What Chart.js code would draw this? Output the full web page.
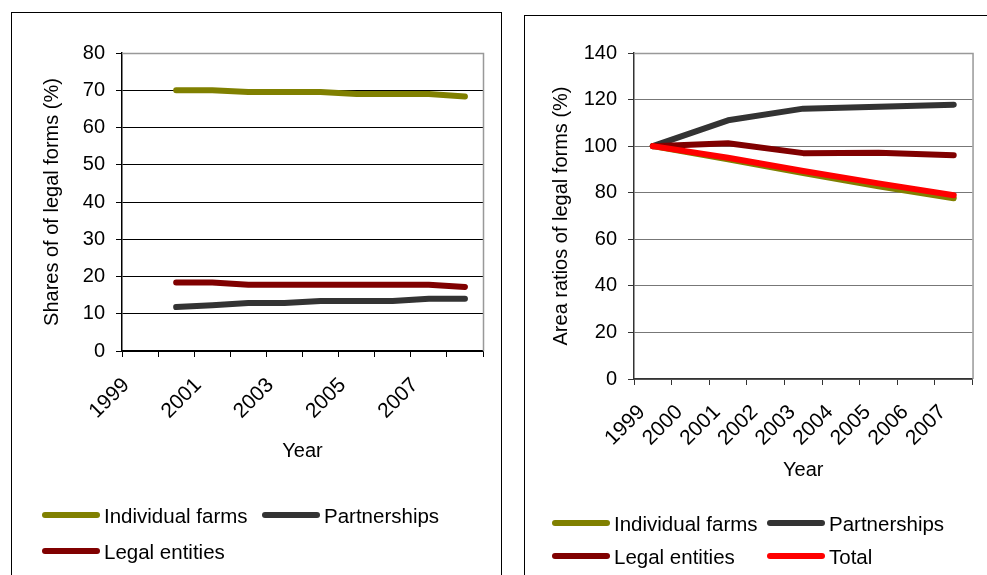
<!DOCTYPE html>
<html><head><meta charset="utf-8">
<script src="https://cdn.jsdelivr.net/npm/chart.js@4.4.1/dist/chart.umd.min.js"></script>
<style>
html,body{margin:0;padding:0;background:#fff;overflow:hidden;width:987px;height:575px}
.box{position:absolute;border:1px solid #000;box-sizing:border-box;background:#fff;overflow:hidden}
#boxL{left:11px;top:12px;width:491px;height:600px}
#boxR{left:524px;top:15px;width:500px;height:600px}
canvas{position:absolute;left:0;top:0}
</style></head><body>
<div class="box" id="boxL"><canvas id="cL" width="489" height="570" style="width:489px;height:570px"></canvas></div>
<div class="box" id="boxR"><canvas id="cR" width="462" height="565" style="width:462px;height:565px"></canvas></div>
<script>
// ---- data: left chart (shares of legal forms, %) ----
const leftYears = ['1999','2000','2001','2002','2003','2004','2005','2006','2007','2008'];
const leftIndividualFarms = [null, 70.0, 70.0, 69.5, 69.5, 69.5, 69.0, 69.0, 69.0, 68.3];
const leftPartnerships   = [null, 11.8, 12.3, 12.9, 12.9, 13.4, 13.4, 13.4, 14.0, 14.0];
const leftLegalEntities  = [null, 18.4, 18.4, 17.8, 17.8, 17.8, 17.8, 17.8, 17.8, 17.2];
const leftYTicks = [0, 10, 20, 30, 40, 50, 60, 70, 80];

// ---- data: right chart (area ratios of legal forms, %) ----
const rightYears = ['1999','2000','2001','2002','2003','2004','2005','2006','2007'];
const rightIndividualFarms = [100, null, 94.3, null, 88.4, null, 82.8, null, 77.6];
const rightPartnerships    = [100, null, 111.1, null, 116.1, null, 116.9, null, 117.8];
const rightLegalEntities   = [100, null, 101.2, null, 97.0, null, 97.2, null, 96.1];
const rightTotal           = [100, null, 95.0, null, 89.3, null, 84.0, null, 78.9];
const rightYTicks = [0, 20, 40, 60, 80, 100, 120, 140];

const FONT = 'Liberation Sans, Arial, sans-serif';
Chart.defaults.font.family = FONT;
Chart.defaults.color = '#000';

const plotFrame = {
  id: 'plotFrame',
  beforeDatasetsDraw(chart, args, opts) {
    const {ctx, chartArea: {left, top, right, bottom}} = chart;
    ctx.save();
    ctx.strokeStyle = opts.color;
    ctx.lineWidth = 1.5;
    ctx.beginPath();
    ctx.moveTo(left, top + 0.5);
    ctx.lineTo(right + 0.5, top + 0.5);
    ctx.lineTo(right + 0.5, bottom);
    ctx.stroke();
    ctx.restore();
  }
};

const lineLegend = {
  id: 'lineLegend',
  afterDraw(chart, args, opts) {
    const ctx = chart.ctx;
    ctx.save();
    ctx.font = opts.font;
    ctx.textBaseline = 'middle';
    ctx.textAlign = 'left';
    chart.data.datasets.forEach((ds, i) => {
      const [col, row] = opts.slots[i];
      const x = opts.cols[col], y = opts.rows[row];
      ctx.strokeStyle = ds.borderColor;
      ctx.lineWidth = 6;
      ctx.lineCap = 'round';
      ctx.beginPath();
      ctx.moveTo(x + 3, y);
      ctx.lineTo(x + opts.lineLen - 3, y);
      ctx.stroke();
      ctx.fillStyle = '#000';
      ctx.fillText(ds.label, x + opts.lineLen + opts.gap, y + opts.textDy);
    });
    ctx.restore();
  }
};

function ds(label, data, color, order) {
  return {label, data, borderColor: color, backgroundColor: color, borderWidth: 6,
    borderCapStyle: 'round', borderJoinStyle: 'round', pointRadius: 0, tension: 0,
    fill: false, spanGaps: true, order};
}

function makeChart(id, cfg) {
  return new Chart(document.getElementById(id), {
    type: 'line',
    data: {labels: cfg.labels, datasets: cfg.datasets},
    plugins: [plotFrame, lineLegend],
    options: {
      responsive: false, animation: false, events: [],
      layout: {padding: cfg.padding},
      plugins: {
        legend: {display: false}, tooltip: {enabled: false},
        plotFrame: {color: '#999'},
        lineLegend: cfg.legend
      },
      scales: {
        x: {
          type: 'category', offset: true,
          grid: {offset: true, drawOnChartArea: false, drawTicks: true, tickLength: 6, color: cfg.axisColor},
          border: {display: true, color: cfg.axisColor, width: 1.5},
          ticks: {autoSkip: false, maxRotation: 45, minRotation: 45, font: {size: 21}, color: '#000',
            padding: cfg.xTickPad, labelOffset: cfg.xLabelOffset,
            callback: (v, i) => (i % cfg.labelEvery === 0 ? cfg.labels[i] : '')},
          title: {display: true, text: 'Year', font: {size: 20}, color: '#000', padding: {top: 0, bottom: cfg.xTitlePad}},
          afterFit: (s) => { s.height = cfg.xHeight; }
        },
        y: {
          min: cfg.yTicks[0], max: cfg.yTicks[cfg.yTicks.length - 1],
          ticks: {stepSize: cfg.yTicks[1] - cfg.yTicks[0], font: {size: 20}, color: '#000', padding: 11},
          grid: {color: cfg.gridColor, tickColor: cfg.axisColor, tickLength: 6, drawTicks: true, lineWidth: 1},
          border: {display: true, color: cfg.axisColor, width: 1.5},
          title: {display: true, text: cfg.yTitle, font: {size: 20}, color: '#000', padding: {top: cfg.yTitlePad, bottom: 0}},
          afterFit: (s) => { s.width = cfg.yWidth; }
        }
      }
    }
  });
}

makeChart('cL', {
  labels: leftYears,
  datasets: [
    ds('Individual farms', leftIndividualFarms, '#808000', 2),
    ds('Partnerships', leftPartnerships, '#333333', 1),
    ds('Legal entities', leftLegalEntities, '#800000', 0)
  ],
  yTicks: leftYTicks, yTitle: 'Shares of of legal forms (%)',
  padding: {left: 0, right: 18, top: 40, bottom: 117},
  yWidth: 110, xHeight: 115, yTitlePad: 28.5, xTitlePad: 2.5,
  xTickPad: 16, xLabelOffset: -14, labelEvery: 2,
  axisColor: '#000', gridColor: '#000',
  legend: {font: '20.5px ' + FONT, cols: [30, 250], rows: [502, 538], lineLen: 58, gap: 4, textDy: 2,
    slots: [[0, 0], [1, 0], [0, 1]]}
});

makeChart('cR', {
  labels: rightYears,
  datasets: [
    ds('Individual farms', rightIndividualFarms, '#808000', 2),
    ds('Partnerships', rightPartnerships, '#333333', 3),
    ds('Legal entities', rightLegalEntities, '#800000', 1),
    ds('Total', rightTotal, '#ff0000', 0)
  ],
  yTicks: rightYTicks, yTitle: 'Area ratios of legal forms (%)',
  padding: {left: 0, right: 8, top: 37, bottom: 92},
  yWidth: 109, xHeight: 110, yTitlePad: 24.7, xTitlePad: 7,
  xTickPad: 15, xLabelOffset: -11, labelEvery: 1,
  axisColor: '#333', gridColor: '#777',
  legend: {font: '20.5px ' + FONT, cols: [27, 242], rows: [507, 540], lineLen: 58, gap: 4, textDy: 2,
    slots: [[0, 0], [1, 0], [0, 1], [1, 1]]}
});
</script>
</body></html>
